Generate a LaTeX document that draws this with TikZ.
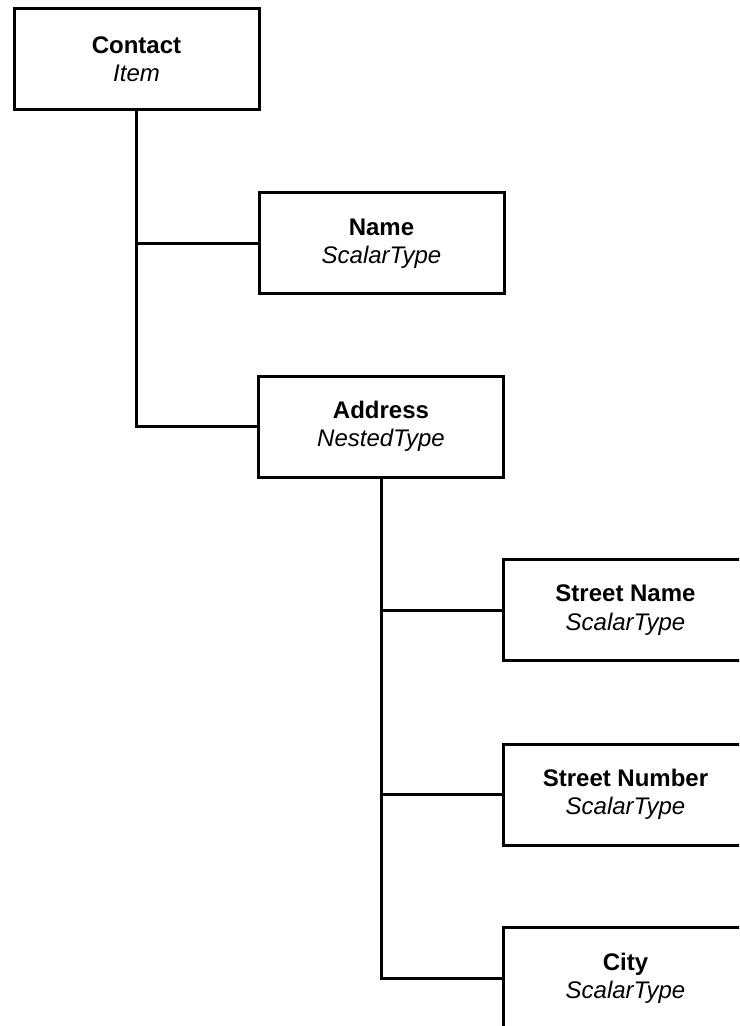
\documentclass[tikz,border=0pt]{standalone}
\usepackage{fontspec}
\setmainfont{Liberation Sans}
\begin{document}
\begin{tikzpicture}[x=0.5pt,y=-0.5pt,
  typebox/.style={draw, line width=1.5pt, rectangle, minimum width=122.5pt,
    minimum height=50.5pt, align=center, inner sep=0pt,
    font=\fontsize{12}{14.2}\selectfont},
  link/.style={line width=1.5pt}]
  \useasboundingbox (0,0) rectangle (739,1026);
  \clip (0,0) rectangle (739,1026);

  \node[typebox] (contact) at (136.5,59)  {\textbf{Contact}\\\textit{Item}};
  \node[typebox] (name)    at (381.5,243.5) {\textbf{Name}\\\textit{ScalarType}};
  \node[typebox] (address) at (381,426.5)   {\textbf{Address}\\\textit{NestedType}};
  \node[typebox] (sname)   at (625.5,610)   {\textbf{Street Name}\\\textit{ScalarType}};
  \node[typebox] (snumber) at (625.5,794.5) {\textbf{Street Number}\\\textit{ScalarType}};
  \node[typebox] (city)    at (625.5,978)   {\textbf{City}\\\textit{ScalarType}};

  % tree connectors
  \draw[link] (contact.south) |- (name.west);
  \draw[link] (contact.south) |- (address.west);
  \draw[link] (address.south) |- (sname.west);
  \draw[link] (address.south) |- (snumber.west);
  \draw[link] (address.south) |- (city.west);
\end{tikzpicture}
\end{document}
